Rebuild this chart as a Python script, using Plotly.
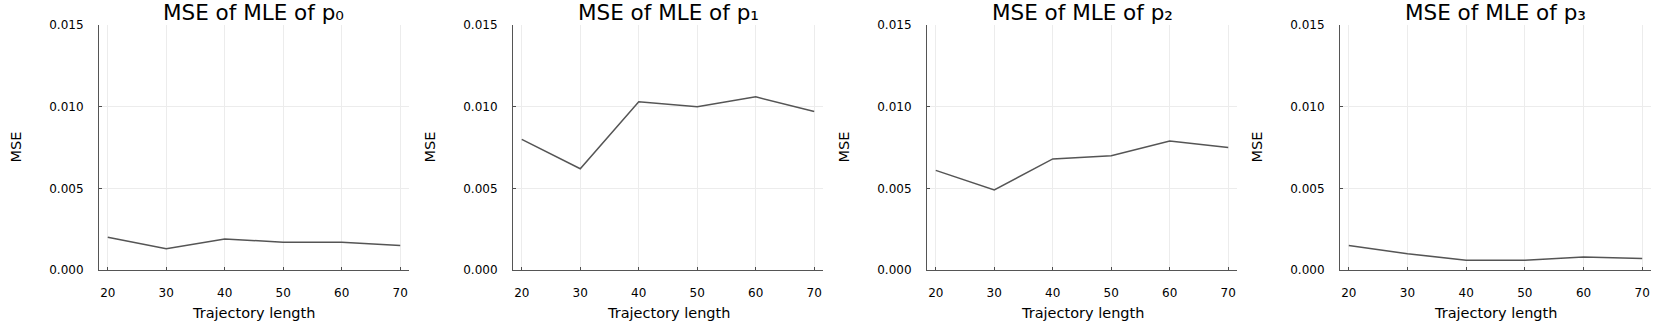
import plotly.graph_objects as go
from plotly.subplots import make_subplots

# Trajectory lengths and MSE of the MLE for each parameter
traj_len = [20, 30, 40, 50, 60, 70]
mse_p0 = [0.0020, 0.0013, 0.0019, 0.0017, 0.0017, 0.0015]
mse_p1 = [0.0080, 0.0062, 0.0103, 0.0100, 0.0106, 0.0097]
mse_p2 = [0.0061, 0.0049, 0.0068, 0.0070, 0.0079, 0.0075]
mse_p3 = [0.0015, 0.0010, 0.0006, 0.0006, 0.0008, 0.0007]
titles = ["MSE of MLE of p₀", "MSE of MLE of p₁", "MSE of MLE of p₂", "MSE of MLE of p₃"]
y_ticks = [0.0, 0.005, 0.010, 0.015]
y_ticklabels = ["0.000", "0.005", "0.010", "0.015"]

W, H = 1656, 331
FONT = "DejaVu Sans"
# plot-area pixel boxes (left, right), top/bottom shared
panels = [(99, 409), (513, 823), (927, 1237), (1340, 1651)]
top_px, bot_px = 25, 270

fig = make_subplots(rows=1, cols=4)
series = [mse_p0, mse_p1, mse_p2, mse_p3]

annotations = []
for i, (vals, (l, r)) in enumerate(zip(series, panels)):
    fig.add_trace(go.Scatter(x=traj_len, y=vals, mode="lines",
                             line=dict(color="#555555", width=1.5),
                             showlegend=False), row=1, col=i + 1)
    xa = "xaxis" if i == 0 else f"xaxis{i+1}"
    ya = "yaxis" if i == 0 else f"yaxis{i+1}"
    fig.layout[xa].update(
        domain=[l / W, r / W], range=[18.5, 71.5], automargin=False,
        tickvals=traj_len, ticks="inside", ticklen=3, tickcolor="#4d4d4d",
        showline=True, linecolor="#555555", linewidth=1,
        showgrid=True, gridcolor="#ececec", gridwidth=0.6, zeroline=False,
        tickfont=dict(family=FONT, size=12, color="black"),
        ticklabelstandoff=12)
    fig.layout[ya].update(
        domain=[1 - bot_px / H, 1 - top_px / H], range=[0, 0.015], automargin=False,
        tickvals=y_ticks, ticktext=y_ticklabels,
        ticks="inside", ticklen=3, tickcolor="#4d4d4d",
        showline=True, linecolor="#555555", linewidth=1,
        showgrid=True, gridcolor="#ececec", gridwidth=0.6, zeroline=False,
        tickfont=dict(family=FONT, size=12, color="black"),
        ticklabelstandoff=12)
    cx = (l + r) / 2 / W
    annotations.append(dict(text=titles[i], x=cx, y=1 - 12.5 / H, xref="paper", yref="paper",
                            xanchor="center", yanchor="middle", showarrow=False,
                            font=dict(family=FONT, size=21.5, color="black")))
    annotations.append(dict(text="Trajectory length", x=cx, y=1 - 313 / H, xref="paper", yref="paper",
                            xanchor="center", yanchor="middle", showarrow=False,
                            font=dict(family=FONT, size=14.5, color="black")))
    annotations.append(dict(text="MSE", x=(l - 84) / W, y=1 - (top_px + bot_px) / 2 / H,
                            xref="paper", yref="paper", textangle=-90,
                            xanchor="center", yanchor="middle", showarrow=False,
                            font=dict(family=FONT, size=14.5, color="black")))

fig.update_layout(width=W, height=H, margin=dict(l=0, r=0, t=0, b=0),
                  plot_bgcolor="white", paper_bgcolor="white",
                  annotations=annotations)

fig.write_html("out.html", config={"displayModeBar": False},
               post_script="document.body.style.margin='0';document.body.style.overflow='hidden';")
